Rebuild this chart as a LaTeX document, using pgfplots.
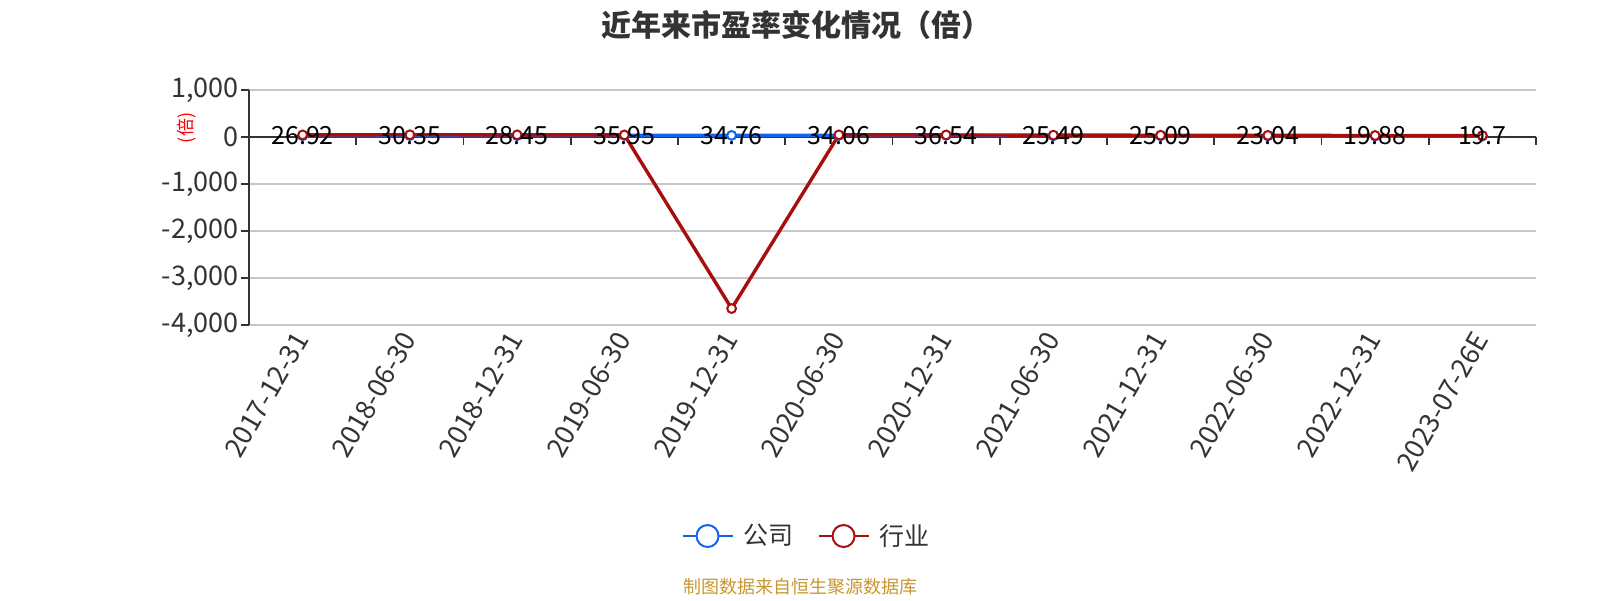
\documentclass[border=0pt]{standalone}
\usepackage{pgfplots}
\pgfplotsset{compat=1.18}
\usepackage{fontspec}
\setmainfont{Noto Sans CJK SC}
\definecolor{cblue}{HTML}{1463F0}
\definecolor{cred}{HTML}{A80E0E}
\definecolor{txt}{HTML}{333333}
\definecolor{src}{HTML}{C8962E}
\begin{document}
\begin{tikzpicture}
\useasboundingbox (0pt,0pt) rectangle (800pt,300pt);
\begin{axis}[
  at={(124.5pt,137.5pt)}, anchor=south west,
  scale only axis, width=643.5pt, height=117.5pt,
  xmin=-0.5, xmax=11.5, ymin=-4000, ymax=1000,
  axis y line=left, axis x line=bottom,
  axis line style={-},
  x axis line style={draw=none},
  y axis line style={txt, line width=0.8pt},
  xtick={0,...,11},
  xticklabels={2017-12-31,2018-06-30,2018-12-31,2019-06-30,2019-12-31,2020-06-30,2020-12-31,2021-06-30,2021-12-31,2022-06-30,2022-12-31,2023-07-26E},
  x tick style={draw=none},
  xticklabel style={rotate=60, anchor=east, font=\fontsize{13.5}{13.5}\selectfont, text=txt, inner sep=1pt},
  ytick={-4000,-3000,-2000,-1000,0,1000},
  yticklabels={{-4,000},{-3,000},{-2,000},{-1,000},{0},{1,000}},
  yticklabel style={font=\fontsize{13.5}{13.5}\selectfont, text=txt, inner sep=1pt},
  y tick style={txt, line width=0.8pt},
  tick align=outside, major tick length=4pt,
  ymajorgrids, grid style={color=black!22, line width=0.6pt},
  clip=false,
  legend style={at={(0.434,-0.898)}, anchor=center, draw=none, fill=none,
    font=\fontsize{12.5}{12.5}\selectfont, text=txt, legend columns=2,
    /tikz/every even column/.append style={column sep=10pt}},
  legend cell align=left,
  legend image code/.code={
    \draw[#1, line width=1pt, mark=none] (0pt,0pt) -- (25pt,0pt);
    \draw[#1, line width=1pt, fill=white, mark=none] (12.5pt,0pt) circle (5.5pt);
  },
]
\draw[txt, line width=0.8pt] (axis cs:-0.5,0) -- (axis cs:11.5,0);
\pgfplotsinvokeforeach{-0.5,0.5,1.5,2.5,3.5,4.5,5.5,6.5,7.5,8.5,9.5,10.5,11.5}{
  \draw[txt, line width=0.8pt] (axis cs:#1,0) -- (axis cs:#1,-170);
}
\addplot[cblue, line width=1.7pt, mark=*, mark size=2.2pt, mark options={fill=white, line width=1pt}]
  coordinates {(0,26.92) (1,30.35) (2,28.45) (3,35.95) (4,34.76) (5,34.06) (6,36.54) (7,25.49) (8,25.09) (9,23.04) (10,19.88) (11,19.7)};
\addlegendentry{\hspace{3pt}公司}
\addplot[cred, line width=1.7pt, mark=*, mark size=2.2pt, mark options={fill=white, line width=1pt}]
  coordinates {(0,45) (1,48) (2,46) (3,44) (4,-3650) (5,45) (6,44) (7,40) (8,38) (9,35) (10,32) (11,30)};
\addlegendentry{\hspace{3pt}行业}
\addplot[draw=none, mark=none, forget plot, point meta=explicit symbolic,
  nodes near coords, nodes near coords style={anchor=center, font=\fontsize{12.5}{12.5}\selectfont, text=black, inner sep=0pt}]
  coordinates {(0,26.92) [26.92] (1,30.35) [30.35] (2,28.45) [28.45] (3,35.95) [35.95] (4,34.76) [34.76] (5,34.06) [34.06] (6,36.54) [36.54] (7,25.49) [25.49] (8,25.09) [25.09] (9,23.04) [23.04] (10,19.88) [19.88] (11,19.7) [19.7]};
\end{axis}
\node[font=\bfseries\fontsize{15}{15}\selectfont, text=txt] at (398pt,287.5pt) {近年来市盈率变化情况（倍）};
\node[rotate=90, font=\fontsize{9}{9}\selectfont, text=red] at (93.5pt,236pt) {(倍)};
\node[font=\fontsize{9}{9}\selectfont, text=src] at (400pt,6.5pt) {制图数据来自恒生聚源数据库};
\end{tikzpicture}
\end{document}
